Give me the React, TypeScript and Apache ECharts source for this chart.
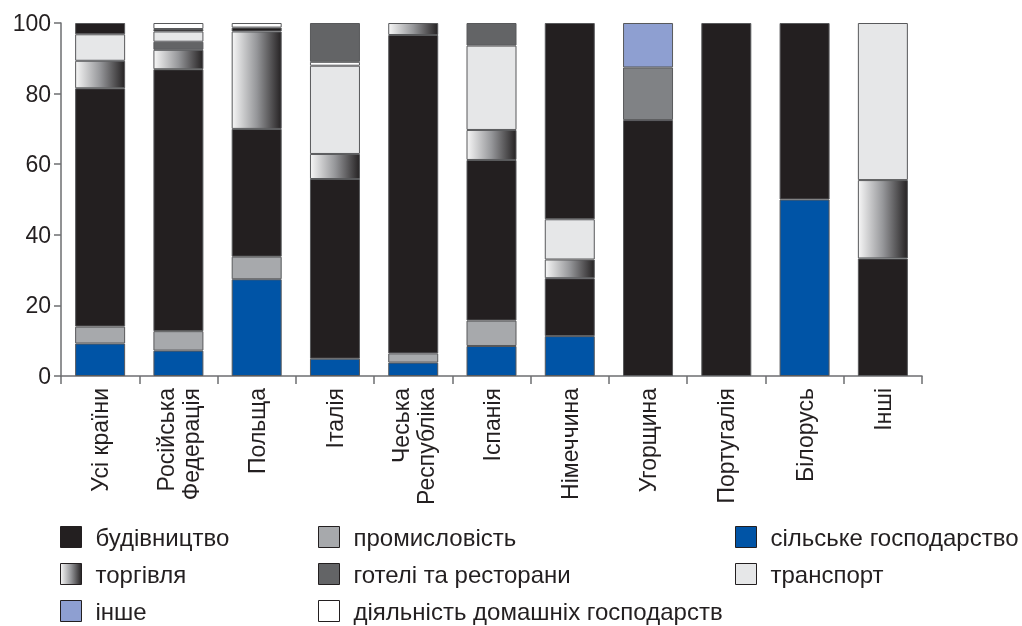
import React, { useEffect, useRef } from "react";
import * as echarts from "echarts";

const categories = [
  "Усі країни",
  "Російська\nФедерація",
  "Польща",
  "Італія",
  "Чеська\nРеспубліка",
  "Іспанія",
  "Німеччина",
  "Угорщина",
  "Португалія",
  "Білорусь",
  "Інші",
];

const agriculture = [9.2, 7.2, 27.4, 4.9, 3.8, 8.5, 11.3, 0, 0, 50, 0];
const industry = [4.8, 5.5, 6.4, 0, 2.6, 7.2, 0, 0, 0, 0, 0];
const construction = [67.5, 74.2, 36.2, 50.9, 90.2, 45.5, 16.4, 72.5, 100, 50, 33.3];
const industryUpper = [0, 0, 0, 0, 0, 0, 0, 14.9, 0, 0, 0];
const trade = [7.8, 5.5, 27.6, 7.1, 3.4, 8.5, 5.3, 0, 0, 0, 22.2];
const hotelsLower = [0, 2.3, 0, 0, 0, 0, 0, 0, 0, 0, 0];
const transport = [7.5, 2.9, 0, 25.0, 0, 23.9, 11.4, 0, 0, 0, 44.5];
const constructionUpper = [3.2, 0.7, 1.1, 0, 0, 0, 55.6, 0, 0, 0, 0];
const household = [0, 1.7, 1.3, 1.1, 0, 0, 0, 0, 0, 0, 0];
const hotels = [0, 0, 0, 11.0, 0, 6.4, 0, 0, 0, 0, 0];
const other = [0, 0, 0, 0, 0, 0, 0, 12.6, 0, 0, 0];

const yTicks = [0, 20, 40, 60, 80, 100];

const FONT = "Liberation Sans, Arial, sans-serif";
const C_BLACK = "#231f20";
const C_IND = "#a7a9ac";
const C_IND2 = "#808285";
const C_AGR = "#0054a6";
const C_HOT = "#636466";
const C_TRN = "#e6e7e8";
const C_HH = "#ffffff";
const C_OTH = "#8e9fd1";

export default function App() {
  const ref = useRef<HTMLDivElement>(null);
  useEffect(() => {
    if (!ref.current) return;
    const chart = echarts.init(ref.current, undefined, { renderer: "svg" });
    const grad = () =>
      new echarts.graphic.LinearGradient(0, 0, 1, 0, [
        { offset: 0, color: "#f6f6f6" },
        { offset: 0.5, color: "#96979a" },
        { offset: 1, color: "#262324" },
      ]);
    const mk = (name: string, arr: number[], color: any) => ({
      name,
      type: "bar",
      stack: "total",
      barWidth: 50,
      data: arr.map((v) => (v === 0 ? "-" : v)),
      itemStyle: { color, borderColor: "#58595b", borderWidth: 1 },
      emphasis: { disabled: true },
    });
    const legendBase = {
      orient: "vertical",
      itemWidth: 21,
      itemHeight: 21,
      itemGap: 13,
      padding: 0,
      height: 120,
      icon: "rect",
      selectedMode: false,
      textStyle: {
        fontFamily: FONT,
        fontSize: 24,
        lineHeight: 21,
        color: C_BLACK,
        padding: [0, 0, 0, 9],
      },
    };
    const li = (name: string, color: any) => ({
      name,
      itemStyle: { color, borderColor: C_BLACK, borderWidth: 1 },
    });
    chart.setOption({
      animation: false,
      grid: { left: 61, right: 100, top: 23, bottom: 250, containLabel: false },
      xAxis: {
        type: "category",
        data: categories,
        axisLine: { lineStyle: { color: "#6d6e71", width: 1.5 } },
        axisTick: { show: true, interval: 0, length: 8, lineStyle: { color: "#6d6e71", width: 1.5 } },
        axisLabel: {
          interval: 0,
          rotate: 90,
          fontFamily: FONT,
          fontSize: 23,
          lineHeight: 25,
          color: C_BLACK,
          margin: 12,
        },
      },
      yAxis: {
        type: "value",
        min: yTicks[0],
        max: yTicks[yTicks.length - 1],
        interval: 20,
        splitLine: { show: false },
        axisLine: { show: true, lineStyle: { color: "#6d6e71", width: 1.5 } },
        axisTick: { show: true, length: 7, lineStyle: { color: "#6d6e71", width: 1.5 } },
        axisLabel: { fontFamily: FONT, fontSize: 23, color: C_BLACK, margin: 10 },
      },
      legend: [
        {
          ...legendBase,
          left: 60,
          top: 525,
          data: [li("будівництво", C_BLACK), li("торгівля", grad()), li("інше", C_OTH)],
        },
        {
          ...legendBase,
          left: 318,
          top: 525,
          data: [
            li("промисловість", C_IND),
            li("готелі та ресторани", C_HOT),
            li("діяльність домашніх господарств", C_HH),
          ],
        },
        {
          ...legendBase,
          left: 735,
          top: 525,
          data: [li("сільське господарство", C_AGR), li("транспорт", C_TRN)],
        },
      ],
      series: [
        mk("сільське господарство", agriculture, C_AGR),
        mk("промисловість", industry, C_IND),
        mk("будівництво", construction, C_BLACK),
        mk("промисловість", industryUpper, C_IND2),
        mk("торгівля", trade, grad()),
        mk("готелі та ресторани", hotelsLower, C_HOT),
        mk("транспорт", transport, C_TRN),
        mk("будівництво", constructionUpper, C_BLACK),
        mk("діяльність домашніх господарств", household, C_HH),
        mk("готелі та ресторани", hotels, C_HOT),
        mk("інше", other, C_OTH),
      ],
    });
    return () => chart.dispose();
  }, []);
  return (
    <div
      ref={ref}
      style={{ position: "fixed", left: 0, top: 0, width: 1022, height: 626 }}
    />
  );
}
